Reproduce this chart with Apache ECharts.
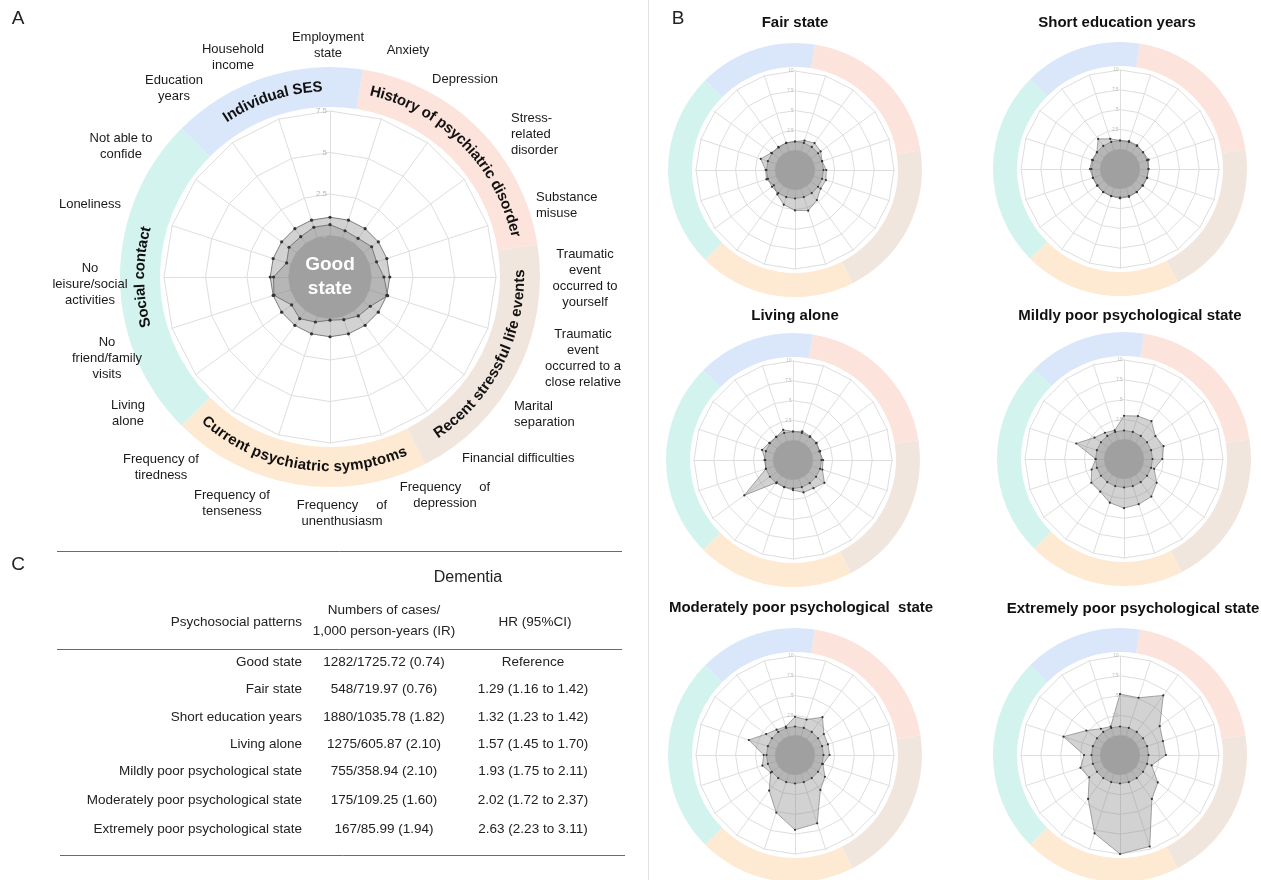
<!DOCTYPE html>
<html><head><meta charset="utf-8">
<script src="https://cdn.jsdelivr.net/npm/echarts@6/dist/echarts.min.js"></script>
<style>html,body{margin:0;padding:0;background:#fff}#c{width:1261px;height:880px}</style>
</head><body><div id="c"></div>
<script>
// ---------------- DATA (clockwise from top) ----------------
const axisNames = [
  'Employment\nstate', 'Anxiety', 'Depression', 'Stress-\nrelated\ndisorder', 'Substance\nmisuse',
  'Traumatic\nevent\noccurred to\nyourself', 'Traumatic\nevent\noccurred to a\nclose relative',
  'Marital\nseparation', 'Financial difficulties', 'Frequency     of\ndepression',
  'Frequency     of\nunenthusiasm', 'Frequency of\ntenseness', 'Frequency of\ntiredness',
  'Living\nalone', 'No\nfriend/family\nvisits', 'No\nleisure/social\nactivities', 'Loneliness',
  'Not able to\nconfide', 'Education\nyears', 'Household\nincome'
];
const groupNames = ['History of psychiatric disorder', 'Recent stressful life events',
  'Current psychiatric symptoms', 'Social contact', 'Individual SES'];
const groupSizes = [4, 4, 4, 5, 3];
const groupColors = ['#fce3dc', '#f1e6de', '#fee9d2', '#d3f3ee', '#dae7fb'];

const refValue = 1.1;
const goodState = [0.65, 0.43, 0.38, 0.6, 0.45, 0.75, 1.15, 0.5, 0.4, 0.2, 0.1, 0.35, 0.6, 0.36, 1.05, 0.9, 0.25, 0.55, 0.5, 0.65];
const fairState = [1.1, 1.4, 1.7, 1.5, 1.1, 1.45, 1.6, 1.5, 2.2, 2.9, 2.6, 2.1, 1.3, 0.8, 1.3, 1.2, 2.05, 1.2, 1.0, 1.1];
const shortEducation = [1.1, 1.2, 1.2, 1.1, 1.3, 1.1, 1.1, 1.0, 1.1, 1.2, 1.2, 1.1, 1.1, 1.0, 1.1, 1.3, 1.2, 1.1, 2.2, 1.5];
const livingAlone = [1.1, 1.3, 1.2, 1.2, 1.0, 1.3, 1.4, 2.4, 1.9, 1.8, 1.3, 1.1, 1.0, 5.1, 1.1, 1.0, 1.6, 1.2, 1.1, 1.5];
const mildlyPoor = [2.96, 3.2, 3.4, 2.4, 2.75, 2.33, 1.5, 2.6, 3.37, 3.5, 3.7, 3.3, 2.6, 2.6, 1.8, 1.07, 3.84, 2.1, 1.6, 1.3];
const moderatelyPoor = [2.33, 2.2, 3.4, 2.0, 1.87, 1.87, 1.2, 2.17, 2.95, 6.57, 6.95, 5.15, 3.05, 1.28, 1.83, 1.45, 3.63, 2.0, 1.45, 1.26];
const extremelyPoor = [5.2, 5.1, 6.8, 3.7, 3.2, 3.3, 1.7, 3.4, 4.35, 9.65, 10.0, 7.9, 4.35, 2.3, 2.75, 2.04, 5.0, 2.75, 1.6, 1.28];

const patternTitles = ['Fair state', 'Short education years', 'Living alone',
  'Mildly poor psychological state', 'Moderately poor psychological  state', 'Extremely poor psychological state'];
const patternValues = [fairState, shortEducation, livingAlone, mildlyPoor, moderatelyPoor, extremelyPoor];

const mainAxisMin = -2.5, mainAxisMax = 7.5, axisStep = 2.5;
const smallAxisMin = -2.5, smallAxisMax = 10;

const tableRows = ['Good state', 'Fair state', 'Short education years', 'Living alone',
  'Mildly poor psychological state', 'Moderately poor psychological state', 'Extremely poor psychological state'];
const tableCases = ['1282/1725.72 (0.74)', '548/719.97 (0.76)', '1880/1035.78 (1.82)', '1275/605.87 (2.10)',
  '755/358.94 (2.10)', '175/109.25 (1.60)', '167/85.99 (1.94)'];
const tableHR = ['Reference', '1.29 (1.16 to 1.42)', '1.32 (1.23 to 1.42)', '1.57 (1.45 to 1.70)',
  '1.93 (1.75 to 2.11)', '2.02 (1.72 to 2.37)', '2.63 (2.23 to 3.11)'];

// ---------------- LAYOUT ----------------
const FONT = '"Liberation Sans", Arial, sans-serif';
const mainC = [330, 277], mainR = 166, mainRing = [170, 210];
const namePos = [[328, 45, 'center'], [408, 50, 'center'], [465, 79, 'center'], [511, 134, 'left'],
  [536, 205, 'left'], [585, 278, 'center'], [583, 358, 'center'], [514, 414, 'left'], [462, 458, 'left'],
  [445, 495, 'center'], [342, 513, 'center'], [232, 503, 'center'], [161, 467, 'center'], [128, 413, 'center'],
  [107, 358, 'center'], [90, 284, 'center'], [90, 204, 'center'], [121, 146, 'center'], [174, 88, 'center'],
  [233, 57, 'center']];
const smallCenters = [[795, 170], [1120, 169], [793, 460], [1124, 459], [795, 755], [1120, 755]];
const smallTitlePos = [[790, 20], [1112, 20], [790, 313], [1125, 313], [796, 605], [1128, 606]];
const smallR = 99, smallRing = [103, 127];

const ccw = a => [a[0]].concat(a.slice(1).reverse());
const namesCCW = ccw(axisNames);

const radars = [], series = [], polars = [], angleAxes = [], radiusAxes = [], titles = [], graphics = [];
const gridColor = '#dedede';

function addRadar(center, radius, min, max, values, isMain) {
  const idx = radars.length;
  radars.push({
    center: center, radius: radius, startAngle: 90, shape: 'polygon',
    splitNumber: Math.round((max - min) / axisStep),
    indicator: namesCCW.map(n => ({ name: n, min: min, max: max })),
    axisName: { show: false },
    axisLine: { lineStyle: { color: gridColor, width: 1 } },
    splitLine: { lineStyle: { color: gridColor, width: 1 } },
    splitArea: { show: false }, axisTick: { show: false }, axisLabel: { show: false }
  });
  const sym = isMain ? 3.2 : 2.2;
  const common = {
    type: 'radar', radarIndex: idx, silent: true, symbol: 'circle', symbolSize: sym,
    itemStyle: { color: '#333' }, lineStyle: { color: '#6a6a6a', width: isMain ? 0.9 : 0.6 },
    areaStyle: { color: '#888888', opacity: 0.38 }, emphasis: { disabled: true }
  };
  series.push(Object.assign({}, common, { data: [{ value: ccw(new Array(20).fill(refValue)) }] }));
  series.push(Object.assign({}, common, { data: [{ value: ccw(values) }] }));
  series.push({
    type: 'radar', radarIndex: idx, silent: true, symbol: 'none',
    lineStyle: { width: 0, opacity: 0 }, areaStyle: { color: '#a0a0a0', opacity: 1 },
    emphasis: { disabled: true }, data: [{ value: new Array(20).fill(0) }]
  });
  series.push({
    type: 'pie', center: center, radius: isMain ? mainRing : smallRing, startAngle: 81, clockwise: true,
    silent: true, z: 1, label: { show: false }, labelLine: { show: false }, emphasis: { disabled: true },
    itemStyle: { borderWidth: 0 }, animation: false,
    data: groupSizes.map((v, i) => ({ value: v, name: groupNames[i], itemStyle: { color: groupColors[i] } }))
  });
  const p = polars.length;
  polars.push({ center: center, radius: radius });
  angleAxes.push({ polarIndex: p, type: 'value', show: false, startAngle: 90 });
  radiusAxes.push({
    polarIndex: p, type: 'value', min: min, max: max, interval: axisStep, z: 5,
    axisLine: { show: false }, axisTick: { show: false }, splitLine: { show: false },
    axisLabel: { showMinLabel: false, fontSize: isMain ? 8 : 4.5, color: '#b8b8b8', fontFamily: FONT, margin: isMain ? 3 : 1.5 }
  });
}

addRadar(mainC, mainR, mainAxisMin, mainAxisMax, goodState, true);
patternValues.forEach((v, i) => {
  addRadar(smallCenters[i], smallR, smallAxisMin, smallAxisMax, v, false);
  titles.push({
    text: patternTitles[i], left: smallTitlePos[i][0], top: smallTitlePos[i][1] - 10, textAlign: 'center',
    textStyle: { fontSize: 15, fontWeight: 'bold', color: '#111', fontFamily: FONT }
  });
});

axisNames.forEach((n, i) => {
  graphics.push({ type: 'text', x: namePos[i][0], y: namePos[i][1], silent: true, z: 10,
    style: { text: n, font: '13px ' + FONT, fill: '#1a1a1a', align: namePos[i][2], verticalAlign: 'middle',
      textAlign: namePos[i][2], textVerticalAlign: 'middle', lineHeight: 16 } });
});

const ctx = document.createElement('canvas').getContext('2d');
function arcText(text, thetaDeg, mode) {
  const font = 'bold 15px ' + FONT;
  ctx.font = font;
  const R = (mainRing[0] + mainRing[1]) / 2;
  const ws = [...text].map(ch => ctx.measureText(ch).width);
  const W = ws.reduce((a, b) => a + b, 0);
  let cum = 0;
  const tc = thetaDeg * Math.PI / 180;
  [...text].forEach((ch, i) => {
    const s = cum + ws[i] / 2 - W / 2;
    cum += ws[i];
    const th = mode === 'top' ? tc + s / R : tc - s / R;
    graphics.push({
      type: 'text', x: mainC[0] + R * Math.sin(th), y: mainC[1] - R * Math.cos(th),
      rotation: mode === 'top' ? -th : Math.PI - th, z: 10, silent: true,
      style: { text: ch, font: font, fill: '#111', align: 'center', verticalAlign: 'middle',
        textAlign: 'center', textVerticalAlign: 'middle' }
    });
  });
}
let acc = 9;
groupNames.forEach((g, i) => {
  const c = acc + groupSizes[i] * 9;
  acc += groupSizes[i] * 18;
  const cc = c % 360;
  const mode = (cc > 95 && cc < 265) ? 'bottom' : 'top';
  arcText(g, cc, mode);
});

graphics.push({ type: 'text', x: mainC[0], y: mainC[1], z: 10, silent: true,
  style: { text: 'Good\nstate', font: 'bold 19px ' + FONT, fill: '#fff', align: 'center', verticalAlign: 'middle',
    textAlign: 'center', textVerticalAlign: 'middle', lineHeight: 24 } });

[['A', 18, 19], ['B', 678, 19], ['C', 18, 565]].forEach(l => graphics.push({
  type: 'text', x: l[1], y: l[2], silent: true,
  style: { text: l[0], font: '19px ' + FONT, fill: '#222', align: 'center', verticalAlign: 'middle',
    textAlign: 'center', textVerticalAlign: 'middle' }
}));
graphics.push({ type: 'line', silent: true, shape: { x1: 648.5, y1: 0, x2: 648.5, y2: 880 }, style: { stroke: '#e2e2e2', lineWidth: 1 } });

const tf = '13.5px ' + FONT;
function tx(t, x, y, align, font, fill) {
  graphics.push({ type: 'text', x: x, y: y, silent: true,
    style: { text: t, font: font || tf, fill: fill || '#222', align: align, verticalAlign: 'middle',
      textAlign: align, textVerticalAlign: 'middle', lineHeight: 21 } });
}
function hl(x1, x2, y) {
  graphics.push({ type: 'line', silent: true, shape: { x1: x1, y1: y, x2: x2, y2: y }, style: { stroke: '#6a6a6a', lineWidth: 1 } });
}
hl(57, 622, 551.5); hl(57, 622, 649.5); hl(60, 625, 855.5);
tx('Dementia', 468, 578, 'center', '16px ' + FONT);
tx('Psychosocial patterns', 302, 622, 'right');
tx('Numbers of cases/\n1,000 person-years (IR)', 384, 621, 'center');
tx('HR (95%CI)', 535, 622, 'center');
const rowY = [662, 689, 717, 744, 771, 800, 829];
tableRows.forEach((r, i) => {
  tx(r, 302, rowY[i], 'right');
  tx(tableCases[i], 384, rowY[i], 'center');
  tx(tableHR[i], 533, rowY[i], 'center');
});

const chart = echarts.init(document.getElementById('c'), null, { renderer: 'canvas' });
chart.setOption({
  animation: false,
  backgroundColor: '#fff',
  title: titles,
  radar: radars,
  polar: polars,
  angleAxis: angleAxes,
  radiusAxis: radiusAxes,
  series: series,
  graphic: graphics
});
</script></body></html>
